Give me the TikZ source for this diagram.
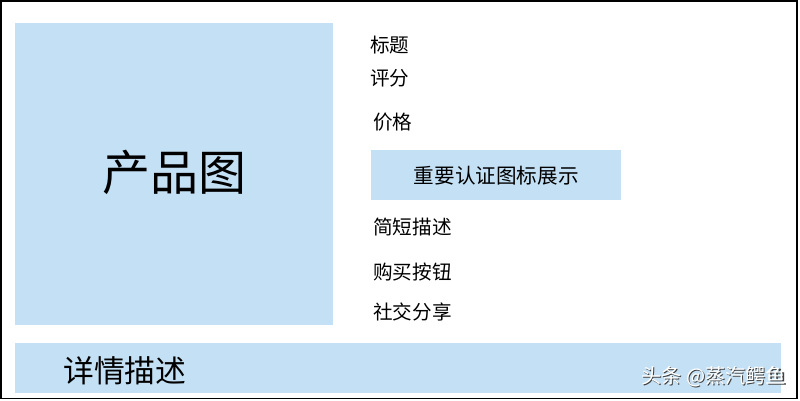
\documentclass[tikz,border=0pt]{standalone}
\usepackage{fontspec}
\setmainfont{Noto Sans CJK SC}
\definecolor{lightblue}{HTML}{C4E0F4}
\begin{document}
\begin{tikzpicture}[x=1pt,y=-1pt,
  bluebox/.style={fill=lightblue,draw=none},
  label/.style={anchor=west,inner sep=0pt,font=\fontsize{19.6}{21}\selectfont,text=black},
  frame/.style={draw=black,line width=1.6pt}]
\useasboundingbox (0,0) rectangle (800,400);
\fill[white] (0,0) rectangle (800,400);
\draw[frame] (1,1) rectangle (797,398.5);
% product image box
\node[bluebox,minimum width=318pt,minimum height=302pt,inner sep=0pt,anchor=north west] (prod) at (15,23) {};
\node[inner sep=0pt,font=\fontsize{48}{50}\selectfont] (prodtxt) at (174,172) {产品图};
% right column
\node[label] (title) at (370,45.5) {标题};
\node[label] (rating) at (370,78) {评分};
\node[label] (price) at (373,122) {价格};
\node[bluebox,minimum width=250pt,minimum height=50pt,inner sep=0pt,anchor=north west] (badge) at (371,150) {};
\node[inner sep=0pt,font=\fontsize{20.6}{22}\selectfont] (badgetxt) at (badge.center) {重要认证图标展示};
\node[label] (desc) at (373,227) {简短描述};
\node[label] (buy) at (373,272) {购买按钮};
\node[label] (share) at (373,312) {社交分享};
% detail box
\node[bluebox,minimum width=766pt,minimum height=50pt,inner sep=0pt,anchor=north west] (detail) at (15,343) {};
\node[anchor=west,inner sep=0pt,font=\fontsize{30.8}{33}\selectfont] (detailtxt) at (63,371) {详情描述};
% watermark
\node[anchor=west,inner sep=0pt,font=\fontsize{20.2}{22}\selectfont,text=black!75] (wmshadow) at (642.2,378.2) {头条 @蒸汽鳄鱼};
\node[anchor=west,inner sep=0pt,font=\fontsize{20.2}{22}\selectfont,text=white] (wm) at (641,377) {头条 @蒸汽鳄鱼};
\end{tikzpicture}
\end{document}
